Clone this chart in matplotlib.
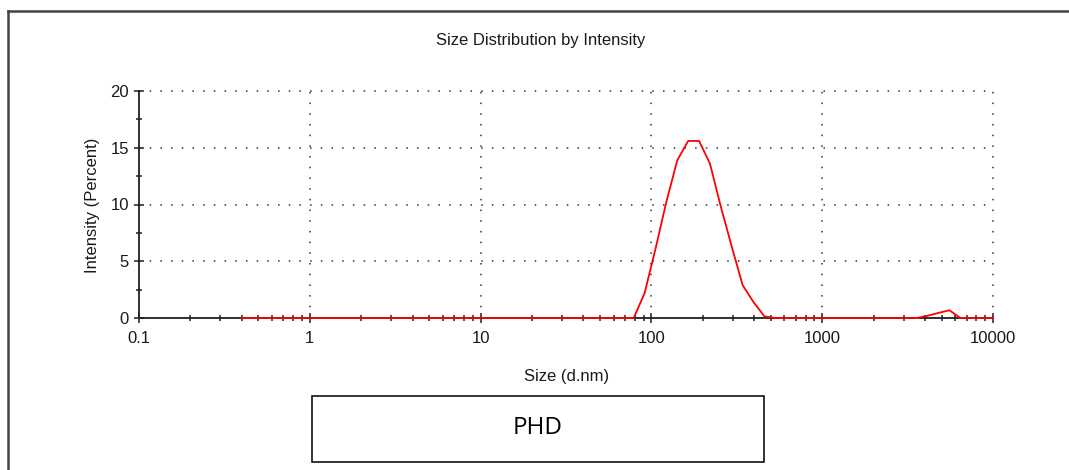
import matplotlib
matplotlib.use("Agg")
import matplotlib.pyplot as plt
from matplotlib.lines import Line2D
from matplotlib.patches import Rectangle
from matplotlib.ticker import FixedLocator, LogLocator, NullFormatter, FixedFormatter

# Size classes (d.nm) and intensity (%)
sizes = [0.4, 78.82, 91.28, 105.7, 122.4, 141.8, 164.2, 190.1, 220.2, 255.0,
         295.3, 342.0, 396.1, 458.7, 531.2, 3581.0, 4146.0, 4801.0, 5560.0,
         6439.0, 10000.0]
intensity = [0.0, 0.0, 2.2, 6.1, 10.25, 13.9, 15.6, 15.6, 13.6, 9.8,
             6.3, 2.9, 1.4, 0.15, 0.0, 0.0, 0.2, 0.45, 0.68,
             0.0, 0.0]

x_ticks = [0.1, 1, 10, 100, 1000, 10000]
x_ticklabels = ["0.1", "1", "10", "100", "1000", "10000"]
y_ticks = [0, 5, 10, 15, 20]
y_minor = [2.5, 7.5, 12.5, 17.5]

title = "Size Distribution by Intensity"
xlabel = "Size (d.nm)"
ylabel = "Intensity (Percent)"
sample = "PHD"

plt.rcParams["font.family"] = ["Liberation Sans", "DejaVu Sans"]

W, H = 1069, 470
fig = plt.figure(figsize=(W / 100, H / 100), dpi=100)
fig.patch.set_facecolor("white")

ax = fig.add_axes([139 / W, 1 - 318 / H, (993 - 139) / W, (318 - 91) / H])
ax.set_xscale("log")
ax.set_xlim(0.1, 10000)
ax.set_ylim(0, 20)

for side in ("top", "right"):
    ax.spines[side].set_visible(False)
for side in ("left", "bottom"):
    ax.spines[side].set_color("#202020")
    ax.spines[side].set_linewidth(1.3)

ax.xaxis.set_major_locator(FixedLocator(x_ticks))
ax.xaxis.set_major_formatter(FixedFormatter(x_ticklabels))
ax.xaxis.set_minor_locator(LogLocator(base=10, subs=range(2, 10), numticks=20))
ax.xaxis.set_minor_formatter(NullFormatter())
ax.yaxis.set_major_locator(FixedLocator(y_ticks))
ax.yaxis.set_minor_locator(FixedLocator(y_minor))

ax.tick_params(which="major", direction="inout", length=6.5, width=1.1,
               color="#202020", labelsize=12, labelcolor="#1a1a1a", pad=4)
ax.tick_params(which="minor", direction="inout", length=4.5, width=1.1,
               color="#202020")
ax.tick_params(axis="x", which="major", pad=6)

# dotted grid at major ticks
dots = (0, (1, 6))
for yv in y_ticks[1:]:
    ax.axhline(yv, color="#333333", lw=1.1, ls=dots, zorder=1, clip_on=False)
for xv in x_ticks[1:]:
    ax.axvline(xv, color="#333333", lw=1.1, ls=dots, zorder=1, clip_on=False)

ax.plot(sizes, intensity, color="#ff0000", lw=1.3, zorder=5, clip_on=False)

fig.text(541 / W, 1 - 41 / H, title, ha="center", va="center",
         fontsize=12, color="#1a1a1a")
fig.text(567 / W, 1 - 376 / H, xlabel, ha="center", va="center",
         fontsize=12, color="#1a1a1a")
fig.text(92 / W, 1 - 205 / H, ylabel, ha="center", va="center",
         rotation=90, fontsize=12, color="#1a1a1a")

# outer frame (left and top edges)
fig.add_artist(Line2D([8 / W, 8 / W], [0, 1 - 11 / H], transform=fig.transFigure,
                      color="#444444", lw=1.8))
fig.add_artist(Line2D([8 / W, 1], [1 - 11 / H, 1 - 11 / H], transform=fig.transFigure,
                      color="#444444", lw=1.8))

# sample label box
fig.add_artist(Rectangle((312 / W, 1 - 462 / H), (764 - 312) / W, (462 - 396) / H,
                         transform=fig.transFigure, fill=False,
                         edgecolor="#111111", lw=1.2))
fig.text(538 / W, 1 - 428 / H, sample, ha="center", va="center",
         fontsize=17.5, family=["Open Sans", "DejaVu Sans"], color="black")

fig.savefig("out.png", dpi=100, facecolor="white")
